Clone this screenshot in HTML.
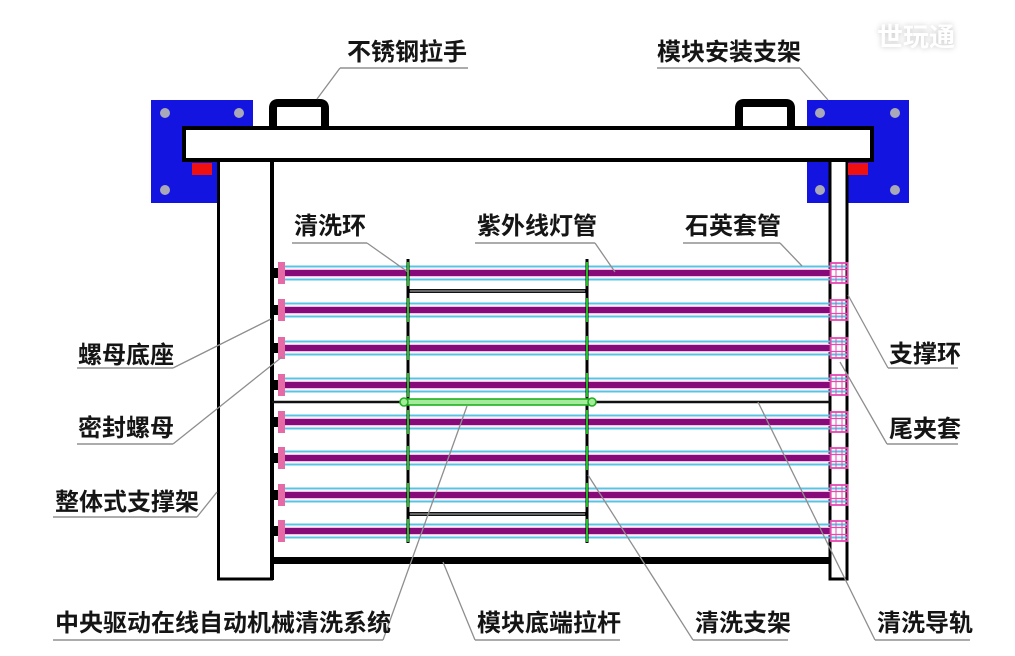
<!DOCTYPE html>
<html>
<head>
<meta charset="utf-8">
<style>
html,body{margin:0;padding:0;background:#fff;}
svg{display:block;}
.lbl{font-family:"Liberation Sans","Noto Sans CJK SC",sans-serif;font-size:24px;font-weight:bold;fill:#151515;}
.ld{stroke:#8e8e8e;stroke-width:1.3;fill:none;}
.ul{stroke:#a0a0a0;stroke-width:1.8;fill:none;}
</style>
</head>
<body>
<svg width="1015" height="656" viewBox="0 0 1015 656" xmlns="http://www.w3.org/2000/svg">
<defs>
  <g id="row">
    <line x1="278" y1="-6.5" x2="848" y2="-6.5" stroke="#58c4e4" stroke-width="2"/>
    <line x1="278" y1="6.5" x2="848" y2="6.5" stroke="#58c4e4" stroke-width="2"/>
    <line x1="284" y1="0" x2="831" y2="0" stroke="#f0c0e8" stroke-width="8.5"/>
    <line x1="284" y1="0" x2="831" y2="0" stroke="#860a78" stroke-width="6"/>
    <rect x="272" y="-5" width="7" height="10" fill="#000"/>
    <rect x="278" y="-11" width="7" height="22" fill="#e66aa6"/>
    <rect x="830.5" y="-10" width="17" height="20" fill="none" stroke="#e848b0" stroke-width="1.8"/>
    <line x1="830" y1="-3.5" x2="848" y2="-3.5" stroke="#e848b0" stroke-width="1.2"/>
    <line x1="830" y1="3.5" x2="848" y2="3.5" stroke="#e848b0" stroke-width="1.2"/>
    <line x1="836" y1="-10" x2="836" y2="10" stroke="#e848b0" stroke-width="1"/>
    <line x1="842" y1="-10" x2="842" y2="10" stroke="#e848b0" stroke-width="1"/>
  </g>
</defs>
<rect x="0" y="0" width="1015" height="656" fill="#fff"/>

<!-- watermark -->
<text x="877" y="46" font-family="'Noto Sans CJK SC',sans-serif" font-size="26" font-weight="bold" fill="#fff" style="filter:drop-shadow(0 0 3px #c8c8c8)">世玩通</text>

<!-- blue mounting plates -->
<rect x="151" y="100" width="102" height="103" fill="#1414e0"/>
<circle cx="165" cy="113" r="5" fill="#a8a8b8"/>
<circle cx="239" cy="113" r="5" fill="#a8a8b8"/>
<circle cx="165" cy="190" r="5" fill="#a8a8b8"/>
<rect x="807" y="100" width="102" height="103" fill="#1414e0"/>
<circle cx="820" cy="113" r="5" fill="#a8a8b8"/>
<circle cx="895" cy="113" r="5" fill="#a8a8b8"/>
<circle cx="820" cy="190" r="5" fill="#a8a8b8"/>
<circle cx="895" cy="190" r="5" fill="#a8a8b8"/>

<!-- handles -->
<path d="M273,128 V108 Q273,103 278,103 H320 Q325,103 325,108 V128" fill="#fff" stroke="#000" stroke-width="8"/>
<path d="M739,128 V108 Q739,103 744,103 H786 Q791,103 791,108 V128" fill="#fff" stroke="#000" stroke-width="8"/>

<!-- posts -->
<rect x="218.5" y="158" width="53" height="421" fill="#fff" stroke="#000" stroke-width="3"/>
<line x1="272" y1="160" x2="272" y2="580" stroke="#000" stroke-width="4"/>
<rect x="830" y="158" width="17" height="421" fill="#fff" stroke="#000" stroke-width="3"/>

<!-- red blocks -->
<rect x="192" y="163" width="20" height="12" fill="#f01010"/>
<rect x="848" y="163" width="20" height="12" fill="#f01010"/>

<!-- top bar -->
<rect x="184" y="128" width="688" height="32" fill="#fff" stroke="#000" stroke-width="4"/>

<!-- bottom rail -->
<rect x="272" y="557" width="558" height="7" fill="#000"/>

<!-- middle rod -->
<line x1="272" y1="402" x2="830" y2="402" stroke="#111" stroke-width="2.5"/>

<!-- tubes -->
<use href="#row" transform="translate(0,273)"/>
<use href="#row" transform="translate(0,310)"/>
<use href="#row" transform="translate(0,348)"/>
<use href="#row" transform="translate(0,385)"/>
<use href="#row" transform="translate(0,422)"/>
<use href="#row" transform="translate(0,458)"/>
<use href="#row" transform="translate(0,495)"/>
<use href="#row" transform="translate(0,531)"/>

<!-- gray cross bars of cleaning frame -->
<line x1="408" y1="291" x2="587" y2="291" stroke="#111" stroke-width="4"/>
<line x1="410" y1="291" x2="585" y2="291" stroke="#666" stroke-width="2"/>
<line x1="408" y1="514" x2="587" y2="514" stroke="#111" stroke-width="4"/>
<line x1="410" y1="514" x2="585" y2="514" stroke="#666" stroke-width="2"/>

<!-- vertical cleaning frame lines -->
<line x1="408" y1="259" x2="408" y2="543" stroke="#000" stroke-width="3"/>
<line x1="587" y1="259" x2="587" y2="543" stroke="#000" stroke-width="3"/>
<g stroke="#22c022" stroke-width="2">
  <line x1="408" y1="262" x2="408" y2="286"/><line x1="587" y1="262" x2="587" y2="286"/>
  <line x1="408" y1="298" x2="408" y2="322"/><line x1="587" y1="298" x2="587" y2="322"/>
  <line x1="408" y1="336" x2="408" y2="360"/><line x1="587" y1="336" x2="587" y2="360"/>
  <line x1="408" y1="373" x2="408" y2="397"/><line x1="587" y1="373" x2="587" y2="397"/>
  <line x1="408" y1="410" x2="408" y2="434"/><line x1="587" y1="410" x2="587" y2="434"/>
  <line x1="408" y1="446" x2="408" y2="470"/><line x1="587" y1="446" x2="587" y2="470"/>
  <line x1="408" y1="483" x2="408" y2="507"/><line x1="587" y1="483" x2="587" y2="507"/>
  <line x1="408" y1="519" x2="408" y2="542"/><line x1="587" y1="519" x2="587" y2="542"/>
</g>

<!-- green drive bar -->
<rect x="404" y="399" width="188" height="6" fill="#a4ec9c" stroke="#20b020" stroke-width="1.6"/>
<circle cx="404" cy="402" r="4" fill="#a4ec9c" stroke="#20b020" stroke-width="1.6"/>
<circle cx="592" cy="402" r="4" fill="#a4ec9c" stroke="#20b020" stroke-width="1.6"/>

<!-- leader lines -->
<line class="ul" x1="340" y1="68" x2="468" y2="68"/><line class="ld" x1="340" y1="68" x2="317" y2="99"/>
<line class="ul" x1="657" y1="68" x2="800" y2="68"/><line class="ld" x1="800" y1="68" x2="828" y2="100"/>
<line class="ul" x1="292" y1="243" x2="367" y2="243"/><line class="ld" x1="367" y1="243" x2="408" y2="272"/>
<line class="ul" x1="475" y1="243" x2="595" y2="243"/><line class="ld" x1="595" y1="243" x2="615" y2="272"/>
<line class="ul" x1="683" y1="243" x2="780" y2="243"/><line class="ld" x1="780" y1="243" x2="802" y2="266"/>
<line class="ul" x1="888" y1="368" x2="958" y2="368"/><line class="ld" x1="888" y1="368" x2="848" y2="295"/>
<line class="ul" x1="887" y1="444" x2="958" y2="444"/><line class="ld" x1="887" y1="444" x2="840" y2="362"/>
<line class="ul" x1="77" y1="368" x2="173" y2="368"/><line class="ld" x1="173" y1="368" x2="271" y2="319"/>
<line class="ul" x1="77" y1="444" x2="173" y2="444"/><line class="ld" x1="173" y1="444" x2="282" y2="357"/>
<line class="ul" x1="53" y1="517" x2="197" y2="517"/><line class="ld" x1="197" y1="517" x2="217" y2="492"/>
<line class="ul" x1="53" y1="640" x2="383" y2="640"/><line class="ld" x1="383" y1="640" x2="467" y2="406"/>
<line class="ul" x1="475" y1="640" x2="620" y2="640"/><line class="ld" x1="475" y1="640" x2="443" y2="562"/>
<line class="ul" x1="693" y1="640" x2="788" y2="640"/><line class="ld" x1="693" y1="640" x2="588" y2="475"/>
<line class="ul" x1="875" y1="640" x2="970" y2="640"/><line class="ld" x1="875" y1="640" x2="758" y2="402"/>

<!-- labels -->
<text class="lbl" x="347" y="60">不锈钢拉手</text>
<text class="lbl" x="657" y="60">模块安装支架</text>
<text class="lbl" x="294" y="234">清洗环</text>
<text class="lbl" x="477" y="234">紫外线灯管</text>
<text class="lbl" x="685" y="234">石英套管</text>
<text class="lbl" x="889" y="362">支撑环</text>
<text class="lbl" x="889" y="437">尾夹套</text>
<text class="lbl" x="78" y="363">螺母底座</text>
<text class="lbl" x="78" y="436">密封螺母</text>
<text class="lbl" x="55" y="510">整体式支撑架</text>
<text class="lbl" x="55" y="631">中央驱动在线自动机械清洗系统</text>
<text class="lbl" x="477" y="631">模块底端拉杆</text>
<text class="lbl" x="695" y="631">清洗支架</text>
<text class="lbl" x="877" y="631">清洗导轨</text>
</svg>
</body>
</html>
